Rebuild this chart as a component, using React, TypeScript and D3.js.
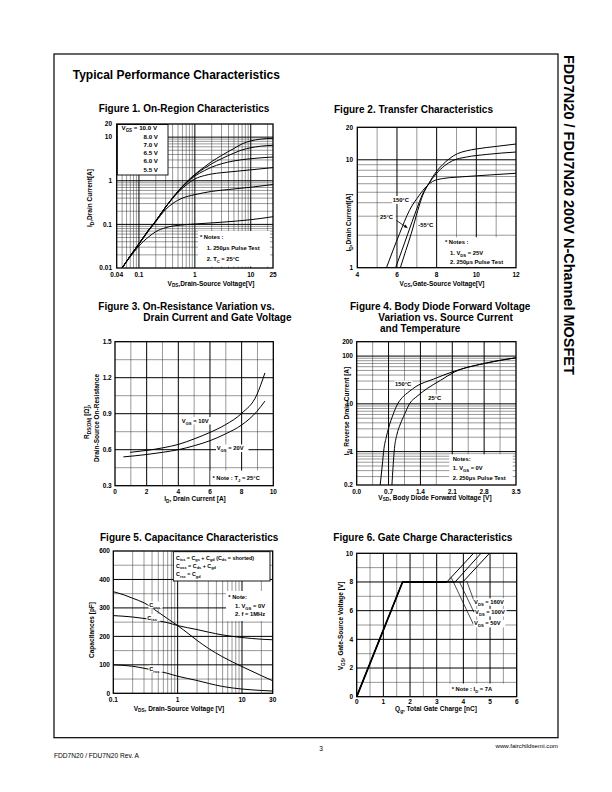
import React from "react";
import * as d3 from "d3";

type P = [number, number];
type Part = string | { s: string } | { p: string };

const FONT = "'Liberation Sans', Arial, Helvetica, sans-serif";

// ---------------- Figure 1: On-Region Characteristics ----------------
const F1_X_TICKS = [0.04, 0.1, 1, 10, 25];
const F1_X_LABELS = ["0.04", "0.1", "1", "10", "25"];
const F1_Y_TICKS = [0.01, 0.1, 1, 10, 20];
const F1_Y_LABELS = ["0.01", "0.1", "1", "10", "20"];
const F1_VGS = ["10.0 V", "8.0 V", "7.0 V", "6.5 V", "6.0 V", "5.5 V"];
const f1Vgs10: P[] = [[0.05, 0.01], [0.07, 0.019], [0.1, 0.036], [0.15, 0.075], [0.2, 0.12], [0.3, 0.25], [0.5, 0.58], [0.7, 0.92], [1, 1.4], [1.5, 2.1], [2, 2.75], [3, 3.8], [5, 5.5], [7, 7.0], [10, 8.2], [15, 9.0], [25, 9.4]];
const f1Vgs8: P[] = [[0.05, 0.01], [0.07, 0.019], [0.1, 0.036], [0.15, 0.075], [0.2, 0.12], [0.3, 0.25], [0.5, 0.57], [0.7, 0.9], [1, 1.36], [1.5, 1.95], [2, 2.45], [3, 3.2], [5, 4.3], [7, 5.1], [10, 5.7], [15, 6.2], [25, 6.5]];
const f1Vgs7: P[] = [[0.05, 0.01], [0.07, 0.019], [0.1, 0.036], [0.15, 0.075], [0.2, 0.12], [0.3, 0.25], [0.5, 0.56], [0.7, 0.88], [1, 1.28], [1.5, 1.72], [2, 2.05], [3, 2.45], [5, 2.85], [10, 3.2], [25, 3.5]];
const f1Vgs65: P[] = [[0.05, 0.01], [0.07, 0.019], [0.1, 0.036], [0.15, 0.075], [0.2, 0.12], [0.3, 0.25], [0.5, 0.54], [0.7, 0.8], [1, 1.1], [1.5, 1.32], [2, 1.43], [3, 1.53], [5, 1.63], [10, 1.78], [25, 2.0]];
const f1Vgs6: P[] = [[0.05, 0.01], [0.07, 0.019], [0.1, 0.035], [0.15, 0.072], [0.2, 0.115], [0.3, 0.22], [0.4, 0.3], [0.6, 0.4], [1, 0.48], [2, 0.57], [4, 0.63], [10, 0.71], [25, 0.82]];
const f1Vgs55: P[] = [[0.05, 0.01], [0.07, 0.018], [0.1, 0.032], [0.15, 0.052], [0.2, 0.068], [0.3, 0.084], [0.5, 0.095], [1, 0.102], [3, 0.112], [10, 0.128], [25, 0.15]];
const f1Curves = [f1Vgs10, f1Vgs8, f1Vgs7, f1Vgs65, f1Vgs6, f1Vgs55];

// ---------------- Figure 2: Transfer Characteristics ----------------
const F2_X_TICKS = [4, 6, 8, 10, 12];
const F2_X_LABELS = ["4", "6", "8", "10", "12"];
const F2_Y_TICKS = [1, 10, 20];
const F2_Y_LABELS = ["1", "10", "20"];
const f2T150: P[] = [[5.47, 1], [5.8, 1.45], [6.13, 2.07], [6.63, 3.4], [7.13, 4.7], [7.5, 5.7], [7.8, 6.3], [8.3, 6.7], [9, 6.9], [10, 7.1], [11, 7.3], [12, 7.5]];
const f2T25: P[] = [[5.93, 1], [6.25, 1.45], [6.55, 2.07], [6.97, 3.4], [7.3, 4.85], [7.6, 6.0], [7.97, 7.4], [8.4, 8.8], [8.8, 9.8], [9.5, 10.6], [10.5, 11.2], [12, 11.8]];
const f2Tm55: P[] = [[6.17, 1], [6.45, 1.45], [6.72, 2.07], [7.05, 3.4], [7.3, 4.7], [7.6, 6.0], [7.97, 7.7], [8.3, 9.0], [8.63, 10.2], [9.05, 11.4], [9.5, 12.1], [10, 12.6], [11, 13.3], [12, 14]];

// ---------------- Figure 3: On-Resistance ----------------
const F3_X_TICKS = [0, 2, 4, 6, 8, 10];
const F3_X_LABELS = ["0", "2", "4", "6", "8", "10"];
const F3_Y_TICKS = [0.3, 0.6, 0.9, 1.2, 1.5];
const F3_Y_LABELS = ["0.3", "0.6", "0.9", "1.2", "1.5"];
const f3Vgs10: P[] = [[0.95, 0.578], [2, 0.594], [3, 0.615], [4, 0.644], [5, 0.69], [6, 0.744], [7, 0.81], [8, 0.903], [8.95, 1.055], [9.47, 1.24]];
const f3Vgs20: P[] = [[0.53, 0.54], [2, 0.56], [3, 0.578], [4, 0.6], [5, 0.633], [6, 0.675], [7, 0.733], [8, 0.806], [8.95, 0.917], [9.47, 1.005]];

// ---------------- Figure 4: Body Diode ----------------
const F4_X_TICKS = [0, 0.7, 1.4, 2.1, 2.8, 3.5];
const F4_X_LABELS = ["0.0", "0.7", "1.4", "2.1", "2.8", "3.5"];
const F4_Y_TICKS = [0.2, 1, 10, 100, 200];
const F4_Y_LABELS = ["0.2", "1", "10", "100", "200"];
const f4T150: P[] = [[0.516, 0.2], [0.56, 0.5], [0.6, 1.17], [0.65, 2.0], [0.7, 3.1], [0.8, 6.0], [0.9, 10], [1.0, 13.5], [1.15, 18], [1.3, 23], [1.69, 33], [2.14, 48], [2.8, 70], [3.5, 92]];
const f4T25: P[] = [[0.774, 0.2], [0.8, 0.5], [0.83, 1.17], [0.88, 2.2], [0.96, 3.8], [1.05, 6.0], [1.16, 10], [1.33, 14.5], [1.55, 21], [1.84, 31], [2.14, 46], [2.8, 70], [3.5, 92]];

// ---------------- Figure 5: Capacitance ----------------
const F5_X_TICKS = [0.1, 1, 10, 30];
const F5_X_LABELS = ["0.1", "1", "10", "30"];
const F5_Y_TICKS = [0, 100, 200, 300, 400, 500];
const F5_Y_LABELS = ["0", "100", "200", "300", "400", "600"];
const f5Coss: P[] = [[0.1, 357], [0.15, 345], [0.2, 334], [0.3, 318], [0.5, 285], [0.7, 262], [1, 238], [1.5, 208], [2, 186], [3, 158], [5, 128], [10, 94], [20, 62], [30, 44]];
const f5Ciss: P[] = [[0.1, 273], [0.2, 268], [0.3, 263], [0.5, 255], [0.7, 248], [1, 238], [2, 224], [3, 215], [5, 205], [10, 196], [20, 190], [30, 188]];
const f5Crss: P[] = [[0.1, 100], [0.2, 95], [0.3, 88], [0.5, 78], [0.7, 70], [1, 60], [2, 45], [3, 35], [5, 24], [10, 15], [20, 10], [30, 8]];

// ---------------- Figure 6: Gate Charge ----------------
const F6_X_TICKS = [0, 1, 2, 3, 4, 5, 6];
const F6_X_LABELS = ["0", "1", "2", "3", "4", "5", "6"];
const F6_Y_TICKS = [0, 2, 4, 6, 8, 10];
const F6_Y_LABELS = ["0", "2", "4", "6", "8", "10"];
const f6V50: P[] = [[0, 0], [1.72, 8], [3.38, 8], [4.38, 10]];
const f6V100: P[] = [[0, 0], [1.72, 8], [3.69, 8], [4.66, 10]];
const f6V160: P[] = [[0, 0], [1.72, 8], [3.98, 8], [4.98, 10]];
const F6_VDS = ["160V", "100V", "50V"];

// ---------------- helpers ----------------
function logMinors(lo: number, hi: number): number[] {
  const out: number[] = [];
  const e0 = Math.floor(Math.log10(lo));
  const e1 = Math.ceil(Math.log10(hi));
  for (let e = e0; e <= e1; e++) {
    for (let k = 2; k <= 9; k++) {
      const v = +(k * Math.pow(10, e)).toPrecision(6);
      if (v > lo * 1.001 && v < hi * 0.999) out.push(v);
    }
  }
  return out;
}
function steps(lo: number, hi: number, step: number): number[] {
  const out: number[] = [];
  const n = Math.round((hi - lo) / step);
  for (let i = 1; i < n; i++) out.push(+(lo + i * step).toFixed(6));
  return out;
}
function without(a: number[], b: number[]): number[] {
  return a.filter((v) => !b.some((w) => Math.abs(w - v) < 1e-6));
}

function rich(parts: Part[], fs: number) {
  let shift = 0;
  return parts.map((pt, i) => {
    if (typeof pt === "string") {
      const el = (
        <tspan key={i} dy={-shift} fontSize={fs}>
          {pt}
        </tspan>
      );
      shift = 0;
      return el;
    }
    const d = "s" in pt ? fs * 0.3 : -fs * 0.4;
    const el = (
      <tspan key={i} dy={d - shift} fontSize={fs * 0.72}>
        {"s" in pt ? pt.s : pt.p}
      </tspan>
    );
    shift = d;
    return el;
  });
}

function Grid(props: { x: any; y: any; vMinor: number[]; vMajor: number[]; hMinor: number[]; hMajor: number[] }) {
  const { x, y } = props;
  const [x0, x1] = x.range();
  const [yb, yt] = y.range();
  return (
    <g>
      {props.vMinor.map((v, i) => (
        <line key={"a" + i} x1={x(v)} x2={x(v)} y1={yt} y2={yb} stroke="#333" strokeWidth={0.5} />
      ))}
      {props.hMinor.map((v, i) => (
        <line key={"b" + i} x1={x0} x2={x1} y1={y(v)} y2={y(v)} stroke="#333" strokeWidth={0.5} />
      ))}
      {props.vMajor.map((v, i) => (
        <line key={"c" + i} x1={x(v)} x2={x(v)} y1={yt} y2={yb} stroke="#000" strokeWidth={1} />
      ))}
      {props.hMajor.map((v, i) => (
        <line key={"d" + i} x1={x0} x2={x1} y1={y(v)} y2={y(v)} stroke="#000" strokeWidth={1} />
      ))}
    </g>
  );
}

function Frame(props: {
  x: any; y: any;
  xTicks: number[]; xLabels: string[]; xBase: number;
  yTicks: number[]; yLabels: string[]; yRight: number;
}) {
  const { x, y } = props;
  const [x0, x1] = x.range();
  const [yb, yt] = y.range();
  return (
    <g>
      <rect x={x0} y={yt} width={x1 - x0} height={yb - yt} fill="none" stroke="#000" strokeWidth={1.3} />
      {props.xTicks.map((v, i) => (
        <text key={"x" + i} x={x(v)} y={props.xBase} textAnchor="middle" fontSize={6.5} fontWeight="bold">
          {props.xLabels[i]}
        </text>
      ))}
      {props.yTicks.map((v, i) => (
        <text key={"y" + i} x={props.yRight} y={y(v) + 2.3} textAnchor="end" fontSize={6.5} fontWeight="bold">
          {props.yLabels[i]}
        </text>
      ))}
    </g>
  );
}

function YLabel({ x, y, parts, fs = 6.5 }: { x: number; y: number; parts: Part[]; fs?: number }) {
  return (
    <text transform={`translate(${x},${y}) rotate(-90)`} textAnchor="middle" fontWeight="bold" fontSize={fs}>
      {rich(parts, fs)}
    </text>
  );
}
function XLabel({ x, y, parts, fs = 6.5 }: { x: number; y: number; parts: Part[]; fs?: number }) {
  return (
    <text x={x} y={y} textAnchor="middle" fontWeight="bold" fontSize={fs}>
      {rich(parts, fs)}
    </text>
  );
}
function Lbl({ x, y, parts, fs = 5.8, anchor = "start" }: { x: number; y: number; parts: Part[]; fs?: number; anchor?: string }) {
  return (
    <text x={x} y={y} textAnchor={anchor as any} fontWeight="bold" fontSize={fs}>
      {rich(parts, fs)}
    </text>
  );
}

const Curve = ({ d, w = 1 }: { d: string | null; w?: number }) => (
  <path d={d || ""} fill="none" stroke="#000" strokeWidth={w} strokeLinejoin="round" />
);

// ---------------- Figures ----------------
function Fig1() {
  const x = d3.scaleLog().domain([0.04, 25]).range([116.7, 273]);
  const y = d3.scaleLog().domain([0.01, 20]).range([268, 124]);
  const line = d3.line<P>().x((d) => x(d[0])).y((d) => y(d[1])).curve(d3.curveMonotoneX);
  const legendBase = [130.4, 138.8, 146.8, 154.8, 163.1, 171.6];
  return (
    <g>
      <text x={184} y={111.8} textAnchor="middle" fontSize={10} fontWeight="bold">Figure 1. On-Region Characteristics</text>
      <Grid x={x} y={y} vMinor={logMinors(0.04, 25)} vMajor={[0.1, 1, 10]} hMinor={logMinors(0.01, 20)} hMajor={[0.1, 1, 10]} />
      <rect x={198} y={231} width={72} height={35.5} fill="#fff" />
      {f1Curves.map((c, i) => (
        <Curve key={i} d={line(c)} />
      ))}
      <rect x={117.3} y={124.5} width={50.7} height={50.5} fill="#fff" stroke="#000" strokeWidth={0.9} />
      {F1_VGS.map((s, i) =>
        i === 0 ? (
          <Lbl key={i} x={121.5} y={legendBase[i]} fs={6.2} parts={["V", { s: "GS" }, " = " + s]} />
        ) : (
          <Lbl key={i} x={158} y={legendBase[i]} fs={6.2} anchor="end" parts={[s]} />
        )
      )}
      <Lbl x={200} y={238.8} parts={["* Notes :"]} />
      <Lbl x={206.7} y={250.4} parts={["1. 250μs Pulse Test"]} />
      <Lbl x={206.7} y={261.4} parts={["2. T", { s: "C" }, " = 25°C"]} />
      <Frame x={x} y={y} xTicks={F1_X_TICKS} xLabels={F1_X_LABELS} xBase={277} yTicks={F1_Y_TICKS} yLabels={F1_Y_LABELS} yRight={112} />
      <YLabel x={92.3} y={198} parts={["I", { s: "D" }, ",Drain Current[A]"]} />
      <XLabel x={211} y={285.5} parts={["V", { s: "DS" }, ",Drain-Source Voltage[V]"]} />
    </g>
  );
}

function Fig2() {
  const x = d3.scaleLinear().domain([4, 12]).range([357.3, 516]);
  const y = d3.scaleLog().domain([1, 20]).range([267.7, 127.3]);
  const line = d3.line<P>().x((d) => x(d[0])).y((d) => y(d[1])).curve(d3.curveMonotoneX);
  return (
    <g>
      <text x={334} y={112.8} fontSize={10} fontWeight="bold">Figure 2. Transfer Characteristics</text>
      <Grid x={x} y={y} vMinor={[5, 7, 9, 11]} vMajor={[6, 8, 10]} hMinor={logMinors(1, 20)} hMajor={[10]} />
      <rect x={441.7} y={237.3} width={70} height={29.6} fill="#fff" />
      <Curve d={line(f2T150)} />
      <Curve d={line(f2T25)} />
      <Curve d={line(f2Tm55)} />
      <rect x={392} y={196} width={19} height={8} fill="#fff" />
      <Lbl x={392.7} y={202.2} parts={["150°C"]} />
      <rect x={379.5} y={213} width={16} height={8} fill="#fff" />
      <Lbl x={380} y={218.8} parts={["25°C"]} />
      <line x1={396.5} y1={220.5} x2={406} y2={227} stroke="#000" strokeWidth={0.8} />
      <path d="M407.8,228.2 L403.6,226.9 L405.4,224.4 Z" fill="#000" />
      <rect x={417.5} y={221.5} width={18} height={8} fill="#fff" />
      <Lbl x={418.3} y={227.2} parts={["-55°C"]} />
      <Lbl x={445} y={243.8} parts={["* Notes :"]} />
      <Lbl x={450} y={254.8} parts={["1. V", { s: "DS" }, " = 25V"]} />
      <Lbl x={450} y={263.8} parts={["2. 250μs Pulse Test"]} />
      <Frame x={x} y={y} xTicks={F2_X_TICKS} xLabels={F2_X_LABELS} xBase={277} yTicks={F2_Y_TICKS} yLabels={F2_Y_LABELS} yRight={353} />
      <YLabel x={350.6} y={222.5} parts={["I", { s: "D" }, ",Drain Current[A]"]} />
      <XLabel x={442} y={285.5} parts={["V", { s: "GS" }, ",Gate-Source Voltage[V]"]} />
    </g>
  );
}

function Fig3() {
  const x = d3.scaleLinear().domain([0, 10]).range([115, 273.3]);
  const y = d3.scaleLinear().domain([0.3, 1.5]).range([485.7, 341.7]);
  const line = d3.line<P>().x((d) => x(d[0])).y((d) => y(d[1])).curve(d3.curveMonotoneX);
  return (
    <g>
      <text x={98.3} y={310.2} fontSize={10} fontWeight="bold">Figure 3. On-Resistance Variation vs.</text>
      <text x={143.3} y={321.2} fontSize={10} fontWeight="bold">Drain Current and Gate Voltage</text>
      <Grid x={x} y={y} vMinor={[1, 3, 5, 7, 9]} vMajor={[2, 4, 6, 8]} hMinor={[0.45, 0.75, 1.05, 1.35]} hMajor={[0.6, 0.9, 1.2]} />
      <rect x={x(6) + 0.5} y={470.5} width={273.3 - x(6) - 0.5} height={15} fill="#fff" />
      <Curve d={line(f3Vgs10)} />
      <Curve d={line(f3Vgs20)} />
      <rect x={181} y={417} width={32} height={7.5} fill="#fff" />
      <Lbl x={181.7} y={423.1} parts={["V", { s: "GS" }, " = 10V"]} />
      <rect x={216} y={444.5} width={32.5} height={7.5} fill="#fff" />
      <Lbl x={216.7} y={450.4} parts={["V", { s: "GS" }, " = 20V"]} />
      <Lbl x={212.5} y={479.8} parts={["* Note : T", { s: "J" }, " = 25°C"]} />
      <Frame x={x} y={y} xTicks={F3_X_TICKS} xLabels={F3_X_LABELS} xBase={494} yTicks={F3_Y_TICKS} yLabels={F3_Y_LABELS} yRight={111.7} />
      <YLabel x={89} y={421.7} parts={["R", { s: "DS(ON)" }, " [Ω],"]} />
      <YLabel x={99} y={418} parts={["Drain-Source On-Resistance"]} />
      <XLabel x={195} y={501} parts={["I", { s: "D" }, ", Drain Current [A]"]} />
    </g>
  );
}

function Fig4() {
  const x = d3.scaleLinear().domain([0, 3.5]).range([356.7, 516]);
  const y = d3.scaleLog().domain([0.2, 200]).range([485, 341.7]);
  const line = d3.line<P>().x((d) => x(d[0])).y((d) => y(d[1])).curve(d3.curveMonotoneX);
  return (
    <g>
      <text x={350} y={310.2} fontSize={10} fontWeight="bold">Figure 4. Body Diode Forward Voltage</text>
      <text x={378.3} y={321.2} fontSize={10} fontWeight="bold">Variation vs. Source Current</text>
      <text x={380} y={331.8} fontSize={10} fontWeight="bold">and Temperature</text>
      <Grid x={x} y={y} vMinor={[0.35, 1.05, 1.75, 2.45, 3.15]} vMajor={[0.7, 1.4, 2.1, 2.8]} hMinor={logMinors(0.2, 200)} hMajor={[1, 10, 100]} />
      <rect x={449.3} y={454.3} width={63.4} height={30.7} fill="#fff" />
      <Curve d={line(f4T150)} />
      <Curve d={line(f4T25)} />
      <rect x={394.5} y={380.5} width={18} height={8} fill="#fff" />
      <Lbl x={395} y={386.4} parts={["150°C"]} />
      <rect x={427.8} y={394.5} width={15} height={8} fill="#fff" />
      <Lbl x={428.3} y={400.4} parts={["25°C"]} />
      <Lbl x={452.7} y={461} parts={["Notes:"]} />
      <Lbl x={452.7} y={470.3} parts={["1. V", { s: "GS" }, " = 0V"]} />
      <Lbl x={452.7} y={480.3} parts={["2. 250μs Pulse Test"]} />
      <Frame x={x} y={y} xTicks={F4_X_TICKS} xLabels={F4_X_LABELS} xBase={493.5} yTicks={F4_Y_TICKS} yLabels={F4_Y_LABELS} yRight={353} />
      <YLabel x={349} y={411} parts={["I", { s: "S" }, ", Reverse Drain Current [A]"]} />
      <XLabel x={435} y={499.5} parts={["V", { s: "SD" }, ", Body Diode Forward Voltage [V]"]} />
    </g>
  );
}

function Fig5() {
  const x = d3.scaleLog().domain([0.1, 30]).range([113.3, 272.7]);
  const y = d3.scaleLinear().domain([0, 500]).range([693.3, 551]);
  const line = d3.line<P>().x((d) => x(d[0])).y((d) => y(d[1])).curve(d3.curveMonotoneX);
  return (
    <g>
      <text x={100} y={541.2} fontSize={10} fontWeight="bold">Figure 5. Capacitance Characteristics</text>
      <Grid x={x} y={y} vMinor={logMinors(0.1, 30)} vMajor={[1, 10]} hMinor={[50, 150, 250, 350, 450]} hMajor={[100, 200, 300, 400]} />
      <rect x={226} y={591} width={46.5} height={30} fill="#fff" />
      <Curve d={line(f5Coss)} />
      <Curve d={line(f5Ciss)} />
      <Curve d={line(f5Crss)} />
      <rect x={173.3} y={551.7} width={96.7} height={29.3} fill="#fff" stroke="#000" strokeWidth={0.9} />
      <Lbl x={176} y={559.8} fs={5.4} parts={["C", { s: "iss" }, " = C", { s: "gs" }, " + C", { s: "gd" }, " (C", { s: "ds" }, " = shorted)"]} />
      <Lbl x={176} y={567.8} fs={5.4} parts={["C", { s: "oss" }, " = C", { s: "ds" }, " + C", { s: "gd" }]} />
      <Lbl x={176} y={576.4} fs={5.4} parts={["C", { s: "rss" }, " = C", { s: "gd" }]} />
      <Lbl x={228.3} y={598.8} parts={["* Note:"]} />
      <Lbl x={235} y={607.8} parts={["1. V", { s: "GS" }, " = 0V"]} />
      <Lbl x={235} y={616.4} parts={["2. f = 1MHz"]} />
      <rect x={148.5} y={601.5} width={14} height={7} fill="#fff" />
      <Lbl x={149.3} y={607} fs={5.6} parts={["C", { s: "oss" }]} />
      <rect x={146.5} y={614.2} width={14} height={7} fill="#fff" />
      <Lbl x={147.3} y={619.7} fs={5.6} parts={["C", { s: "iss" }]} />
      <rect x={148.5} y={665.5} width={14} height={7} fill="#fff" />
      <Lbl x={149.3} y={671} fs={5.6} parts={["C", { s: "rss" }]} />
      <Frame x={x} y={y} xTicks={F5_X_TICKS} xLabels={F5_X_LABELS} xBase={701.5} yTicks={F5_Y_TICKS} yLabels={F5_Y_LABELS} yRight={110} />
      <YLabel x={94} y={630} parts={["Capacitances [pF]"]} />
      <XLabel x={179} y={710.5} parts={["V", { s: "DS" }, ", Drain-Source Voltage [V]"]} />
    </g>
  );
}

function Fig6() {
  const x = d3.scaleLinear().domain([0, 6]).range([356.7, 516.7]);
  const y = d3.scaleLinear().domain([0, 10]).range([696.7, 553.3]);
  const line = d3.line<P>().x((d) => x(d[0])).y((d) => y(d[1]));
  const leaders: [P, P][] = [
    [[4.125, 8.07], [4.4, 6.67]],
    [[3.85, 8.02], [4.4, 5.88]],
    [[3.54, 8.33], [4.375, 5.05]],
  ];
  const lblY = [603.8, 614.4, 625.4];
  const lblX = [474, 475, 474];
  return (
    <g>
      <text x={333.3} y={541.2} fontSize={10} fontWeight="bold">Figure 6. Gate Charge Characteristics</text>
      <Grid x={x} y={y} vMinor={without(steps(0, 6, 0.5), [1, 2, 3, 4, 5])} vMajor={[1, 2, 3, 4, 5]} hMinor={[1, 3, 5, 7, 9]} hMajor={[2, 4, 6, 8]} />
      <rect x={449.3} y={683.5} width={66.5} height={12.5} fill="#fff" />
      <Curve d={line(f6V50)} />
      <Curve d={line(f6V100)} />
      <Curve d={line(f6V160)} />
      <Curve d={line(f6V50.slice(0, 3))} w={1.8} />
      {leaders.map((l, i) => (
        <line key={i} x1={x(l[0][0])} y1={y(l[0][1])} x2={x(l[1][0])} y2={y(l[1][1])} stroke="#000" strokeWidth={0.7} />
      ))}
      {F6_VDS.map((s, i) => (
        <g key={i}>
          <rect x={lblX[i] - 0.5} y={lblY[i] - 5.5} width={32} height={7.5} fill="#fff" />
          <Lbl x={lblX[i]} y={lblY[i]} parts={["V", { s: "DS" }, " = " + s]} />
        </g>
      ))}
      <Lbl x={451.7} y={691.2} parts={["* Note : I", { s: "D" }, " = 7A"]} />
      <Frame x={x} y={y} xTicks={F6_X_TICKS} xLabels={F6_X_LABELS} xBase={704} yTicks={F6_Y_TICKS} yLabels={F6_Y_LABELS} yRight={353} />
      <YLabel x={343} y={626} parts={["V", { s: "GS" }, ", Gate-Source Voltage [V]"]} />
      <XLabel x={436} y={711} parts={["Q", { s: "g" }, ", Total Gate Charge [nC]"]} />
    </g>
  );
}

export default function App() {
  return (
    <svg
      width={612}
      height={792}
      viewBox="0 0 612 792"
      style={{ position: "absolute", left: 0, top: 0, background: "#fff" }}
      fontFamily={FONT}
    >
      <rect x={0} y={0} width={612} height={792} fill="#fff" />
      <rect x={54} y={54} width={504} height={683.7} fill="none" stroke="#000" strokeWidth={1.2} />
      <text x={72.7} y={79.3} fontSize={12} fontWeight="bold">Typical Performance Characteristics</text>
      <text transform="translate(564,55) rotate(90)" fontSize={14.5} fontWeight="bold">
        FDD7N20 / FDU7N20 200V N-Channel MOSFET
      </text>
      <Fig1 />
      <Fig2 />
      <Fig3 />
      <Fig4 />
      <Fig5 />
      <Fig6 />
      <text x={54} y={758} fontSize={6.6}>FDD7N20 / FDU7N20 Rev. A</text>
      <text x={321} y={751} fontSize={6.6} textAnchor="middle">3</text>
      <text x={558} y={747.5} fontSize={6.2} textAnchor="end">www.fairchildsemi.com</text>
    </svg>
  );
}
